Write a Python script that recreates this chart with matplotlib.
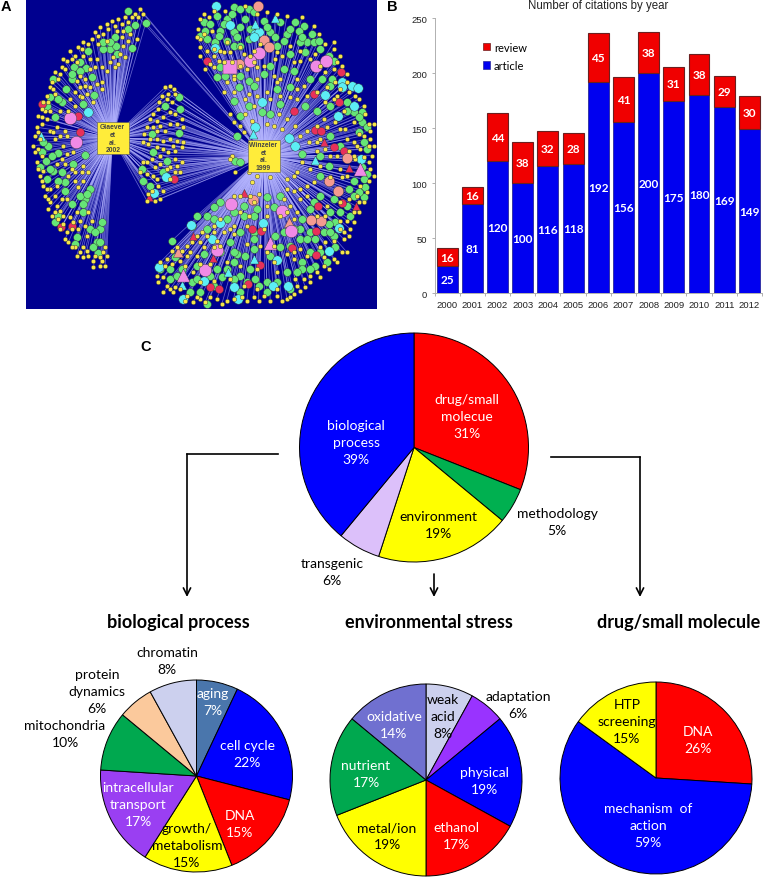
import matplotlib
matplotlib.use("Agg")
import matplotlib.pyplot as plt
from matplotlib.collections import LineCollection
from matplotlib.patches import Patch, Rectangle

FIG_W = 763
FIG_H = 879
LABEL_FONT = "Lato"

# panel B
years = [2000, 2001, 2002, 2003, 2004, 2005, 2006, 2007, 2008, 2009, 2010, 2011, 2012]
articles = [25, 81, 120, 100, 116, 118, 192, 156, 200, 175, 180, 169, 149]
reviews = [16, 16, 44, 38, 32, 28, 45, 41, 38, 31, 38, 29, 30]

# panel C pies, clockwise from 12 o'clock
main_values = [31, 5, 19, 6, 39]
main_colors = ["#ff0000", "#00b050", "#ffff00", "#dcc0fa", "#0000ff"]
bio_values = [7, 22, 15, 15, 17, 10, 6, 8]
bio_colors = ["#4a76ac", "#0000ff", "#ff0000", "#ffff00", "#9a3ff2", "#00a84f", "#fbc99c", "#ccd0ee"]
env_values = [8, 6, 19, 17, 19, 17, 14]
env_colors = ["#ccd0ee", "#9933ff", "#0000ff", "#ff0000", "#ffff00", "#00a84f", "#7070d0"]
drug_values = [26, 59, 15]
drug_colors = ["#ff0000", "#0000ff", "#ffff00"]

# pie labels: text, x, y (figure pixels), colour
pie_labels = [
    ("drug/small\nmolecue\n31%", 467, 417, "white"),
    ("biological\nprocess\n39%", 356, 443, "white"),
    ("environment\n19%", 438, 526, "black"),
    ("methodology\n5%", 557, 523, "black"),
    ("transgenic\n6%", 332, 573, "black"),
    ("chromatin\n8%", 167, 662, "black"),
    ("protein\ndynamics\n6%", 97, 692, "black"),
    ("mitochondria\n10%", 65, 735, "black"),
    ("aging\n7%", 213, 703, "white"),
    ("cell cycle\n22%", 247, 755, "white"),
    ("DNA\n15%", 240, 825, "white"),
    ("growth/\nmetabolism\n15%", 187, 846, "black"),
    ("intracellular\ntransport\n17%", 138, 805, "white"),
    ("weak\nacid\n8%", 443, 717, "black"),
    ("adaptation\n6%", 518, 706, "black"),
    ("physical\n19%", 484, 782, "white"),
    ("ethanol\n17%", 456, 837, "white"),
    ("metal/ion\n19%", 387, 837, "black"),
    ("nutrient\n17%", 366, 775, "white"),
    ("oxidative\n14%", 394, 726, "white"),
    ("HTP\nscreening\n15%", 627, 722, "black"),
    ("DNA\n26%", 698, 741, "white"),
    ("mechanism  of\naction\n59%", 648, 826, "white"),
]

# panel A network, node positions (3x crop pixels)
green_nodes = [
    (385,35),(437,72),(405,78),(395,148),(345,115),(330,150),(310,150),(348,140),(265,155),(240,190),
    (258,208),(222,203),(275,235),(160,240),(198,270),(215,240),(282,287),(185,310),(150,295),(248,315),
    (165,355),(255,468),(175,462),(145,440),(138,485),(120,505),(160,515),(140,540),(220,495),(185,520),
    (130,430),(255,600),(270,570),(240,590),(215,615),(195,575),(165,670),(300,690),(290,730),(230,715),
    (295,762),(270,690),(250,640),(310,130),(330,130),(385,90),(350,165),(240,215),(215,225),(175,300),
    (140,320),(155,470),(125,460),(195,550),(150,510),(175,545),(260,585),(250,615),(175,650),(285,700),
    (280,745),(300,730),(225,735),(305,670),
    (538,295),(540,330),(495,320),(455,405),(537,403),(460,460),(502,487),(430,545),(450,560),(425,510),(490,520),
    (610,70),(615,95),(650,50),(700,25),(720,30),(745,30),(660,95),(700,100),(720,85),(745,120),
    (710,115),(750,90),(790,65),(810,100),(840,70),(885,70),(910,80),(860,105),(895,95),(935,105),
    (920,130),(940,130),(850,125),(830,140),(900,130),(870,165),(915,160),(960,150),(985,170),(645,130),
    (655,110),(620,120),(700,140),(660,205),(650,235),(675,230),(720,230),(745,245),(760,260),(790,225),
    (810,200),(850,210),(880,215),(930,240),(965,240),(995,240),(870,265),(715,265),(830,270),(700,305),
    (745,320),(785,340),(810,345),(720,350),(840,315),(915,320),(950,335),(990,320),(1040,310),(1060,340),
    (1085,340),(1085,370),(1100,385),(1100,450),(1085,505),(1100,525),(1095,565),(1090,595),(1060,545),(1045,570),
    (990,410),(1020,440),(960,470),(905,465),(705,485),(720,490),(710,410),(985,500),(960,530),(1000,600),
    (990,640),(1020,640),(960,590),(930,630),(905,660),(940,610),(800,595),(770,630),(820,625),(730,620),
    (660,610),(640,625),(620,650),(590,650),(680,660),(620,690),(575,680),(760,700),(690,730),(720,700),
    (850,700),(900,690),(900,720),(930,700),(945,720),(970,700),(1005,745),(1000,710),(905,790),(840,745),
    (870,740),(825,710),(760,720),(710,765),(735,770),(660,760),(700,760),(515,725),(480,810),(510,840),
    (570,880),(650,810),(665,835),(630,830),(720,830),(750,810),(800,850),(860,820),(905,810),(930,760),
    (960,760),(870,870),(620,915),(720,880),(740,850),(610,765),(840,590),
    (600,110),(630,75),(680,60),(760,40),(800,85),(825,115),(870,90),(955,125),(905,115),(680,125),
    (735,60),(695,45),(670,75),(1000,185),(720,140),(990,260),(1040,335),(1075,355),(1075,400),(1090,430),
    (1090,540),(1075,580),(1060,590),(1040,620),(1005,670),(985,675),(990,700),(1050,650),(980,790),(945,800),
    (930,810),(890,820),(830,850),(800,880),(775,860),(765,840),(700,840),(680,810),(640,860),(600,880),
    (575,850),(545,810),(525,775),(510,810),(530,830),(590,840),(590,800),(700,790),(760,750),(810,770),
    (920,720),(880,690),(760,650),(730,650),(700,640),(640,660),
]
yellow_nodes = [
    (420,30),(430,45),(415,55),(395,55),(375,55),(355,60),(335,65),(320,75),(300,85),(310,105),
    (285,100),(275,120),(250,130),(235,145),(225,170),(210,155),(200,185),(185,205),(180,225),(165,220),
    (150,265),(155,250),(140,290),(130,310),(135,335),(115,350),(140,360),(125,375),(110,385),(105,410),
    (115,450),(105,460),(125,470),(110,490),(120,530),(130,560),(135,590),(150,610),(145,630),(165,640),
    (170,620),(190,650),(180,690),(200,700),(215,690),(205,730),(225,745),(240,760),(250,745),(265,770),
    (280,785),(300,800),(315,800),(305,785),(315,745),(320,770),(240,665),(255,680),(275,665),(265,640),
    (230,640),(210,655),(150,570),(170,560),(200,600),(235,565),(250,545),(225,520),(215,510),(250,500),
    (195,495),(200,465),(220,460),(180,410),(165,420),(150,395),(170,385),(195,395),(200,410),(240,265),
    (255,260),(270,265),(290,255),(305,250),(305,270),(240,290),(225,280),(210,300),(225,320),(245,295),
    (205,335),(180,335),(150,335),(340,175),(355,195),(330,190),(305,205),(290,180),(285,205),(360,165),
    (375,175),(350,95),(370,95),(390,105),(410,120),(365,115),(385,125),(250,170),(270,180),(240,230),
    (190,180),(165,285),
    (405,45),(385,70),(365,75),(345,80),(325,90),(295,110),(265,135),(245,150),(230,190),(215,180),
    (195,210),(175,240),(160,270),(145,310),(125,330),(125,355),(115,400),(120,420),(100,440),(115,510),
    (130,515),(125,545),(140,570),(145,600),(155,650),(175,660),(190,675),(195,720),(215,745),(230,770),
    (250,775),(285,770),(300,775),(310,760),(280,805),(260,755),(235,690),(260,710),(220,670),(180,635),
    (165,590),(185,600),(225,545),(205,530),(245,520),(265,520),(185,480),(170,495),(190,440),(160,400),
    (230,245),(255,240),(280,310),(260,285),(295,135),(320,125),(370,140),(345,205),(320,215),(270,210),
    (495,265),(510,262),(522,270),(525,285),(505,285),(485,290),(478,310),(475,330),(460,345),(450,360),
    (470,365),(490,355),(510,340),(525,345),(545,360),(530,375),(548,385),(440,385),(432,405),(430,430),
    (445,435),(470,420),(490,425),(510,420),(530,425),(550,430),(545,445),(525,455),(505,460),(490,450),
    (470,445),(455,480),(440,490),(430,490),(465,505),(480,470),(525,480),(545,490),(540,520),(510,505),
    (525,520),(420,520),(460,530),(475,560),(490,575),(480,600),(465,605),(440,605),(445,585),(470,540),
    (500,300),(515,310),(480,380),(460,385),(510,375),(495,395),(470,395),(450,420),(520,440),(480,495),
    (440,525),(500,510),(455,575),(510,540),(530,500),
    (640,35),(625,55),(600,60),(595,90),(600,120),(600,145),(620,155),(640,170),(600,170),(630,195),
    (655,185),(670,160),(690,160),(680,130),(720,145),(730,165),(760,155),(770,205),(740,210),(790,200),
    (825,180),(845,170),(880,190),(900,185),(930,180),(960,200),(1000,150),(1010,190),(1020,170),(1000,210),
    (1005,250),(1020,270),(1045,280),(1075,300),(1090,320),(1105,375),(1110,395),(1090,410),(1075,405),(1110,420),
    (1105,440),(1090,475),(1105,490),(1110,510),(1105,545),(1080,560),(1100,580),(1075,610),(1060,640),(1040,665),
    (1050,690),(1030,720),(1000,780),(970,800),(950,820),(930,830),(910,840),(890,860),(900,875),(880,885),
    (860,900),(830,890),(810,905),(790,890),(760,895),(740,905),(700,900),(680,905),(650,900),(630,895),
    (600,900),(580,910),(560,890),(540,870),(520,880),(500,860),(490,880),(470,830),(480,790),(500,780),
    (515,755),(530,745),(560,740),(590,710),(605,700),(640,680),(660,660),(700,590),(720,590),(750,590),
    (775,585),(860,570),(880,575),(900,570),(920,560),(940,550),(880,530),(860,540),(810,535),(770,530),
    (755,550),(745,520),(695,470),(690,480),(705,520),(690,345),(700,370),(735,345),(810,300),(840,290),
    (760,320),(870,295),(890,300),(920,290),(950,280),(975,310),(1000,300),(1030,335),(1005,370),(970,360),
    (950,380),(920,395),(900,410),(925,430),(950,430),(1040,420),(1060,430),(1045,455),(1010,470),(960,500),
    (930,510),(905,490),(890,520),(990,535),(1025,535),(1045,600),(1020,610),(980,620),(870,620),(890,640),
    (840,650),(800,650),(745,650),(700,680),(740,680),(790,690),(640,700),(600,730),(570,760),(540,785),
    (580,820),(600,795),(630,795),(680,790),(720,800),(770,810),(830,820),(820,790),(880,780),(860,765),
    (900,750),(960,745),(975,730),(1020,690),(1040,760),(660,155),(750,170),(820,230),(840,240),(890,240),
    (720,200),(700,230),(745,285),(770,290),(730,400),(680,250),(700,280),(670,280),(700,240),
    (610,45),(635,95),(675,35),(735,20),(770,45),(800,40),(830,45),(860,50),(905,55),(940,80),
    (955,105),(975,135),(1000,130),(610,105),(590,115),(640,205),(615,210),(695,190),(670,190),(640,150),
    (780,135),(760,190),(830,160),(870,140),(900,155),(945,165),(975,220),(1025,200),(1040,225),(1040,250),
    (1065,290),(1095,345),(1120,375),(1070,440),(1080,450),(1065,480),(1120,440),(1115,470),(1120,530),(1090,610),
    (1070,590),(1075,640),(1060,670),(1045,710),(1025,760),(1010,790),(985,810),(960,835),(930,850),(915,865),
    (870,895),(845,905),(775,905),(725,895),(665,915),(615,910),(590,895),(555,905),(525,865),(510,870),
    (490,835),(475,850),(495,800),(515,795),(560,770),(545,755),(575,730),(620,710),(650,725),(700,705),
    (740,735),(780,740),(800,760),(820,740),(880,760),(920,770),(970,775),(1000,725),(1030,700),(1020,665),
    (975,650),(950,650),(880,660),(860,640),(800,620),(760,610),(720,640),(690,690),(670,700),(660,740),
    (640,745),(610,745),(590,770),(555,800),(600,850),(640,845),(690,840),(730,860),(770,870),(830,870),
    (885,840),(900,600),(920,590),(850,600),(1040,530),(1020,510),(990,470),(975,450),(950,455),(1060,470),
    (1035,390),(1020,390),(1060,370),(980,385),(960,420),(885,380),(860,360),(845,390),(820,380),(800,375),
    (835,345),(755,365),(720,380),(830,250),(800,280),(770,240),(735,300),(890,270),(910,260),(980,265),(1010,290),
]
pink_nodes = [(210,358),(228,430),(692,616),(846,637),(872,695),(650,752),(613,813),(775,163),(748,187),(946,200),(978,185)]
pink_triangles = [(808,733),(550,828),(1080,510)]
salmon_nodes = [(772,20),(792,123),(805,145),(715,195),(1040,477),(987,546),(1014,577),(933,663),(963,667),(757,602)]
salmon_triangles = [(865,670),(533,760)]
cyan_nodes = [
    (647,22),(690,77),(765,105),(775,100),(760,115),(645,148),(1025,250),(1025,265),(1055,260),(1072,268),
    (973,288),(1062,320),(1014,352),(786,310),(765,384),(865,417),(883,441),(1083,480),(1016,687),(987,755),
    (830,783),(787,672),(660,672),(572,677),(635,720),(478,805),(550,900),(610,845),(700,865),(713,900),
    (818,860),(862,860),(463,583),(498,535),(265,340),
]
cyan_triangles = [(122,412),(945,482),(760,780),(683,820),(547,858),(765,75),(825,58),(757,405)]
red_nodes = [
    (620,185),(125,316),(235,350),(240,398),(940,286),(880,335),(1015,310),(1023,218),(945,393),(963,396),
    (1002,443),(1030,455),(952,622),(1025,612),(756,690),(782,697),(948,697),(630,865),(655,870),(743,855),
    (780,797),(948,767),(522,540),(215,680),(183,685),(875,747),
]
red_triangles = [(730,583),(1068,622),(970,428),(1047,508),(580,710),(637,776),(447,595)]
square_node = [(688,205)]

giaever_hub = (337, 417)
winzeler_hub = (790, 471)


def px_axes(fig, left, top, right, bottom, **kwargs):
    # axes placed by picture pixels, y measured from the top
    return fig.add_axes([left / FIG_W, 1 - bottom / FIG_H, (right - left) / FIG_W, (bottom - top) / FIG_H], **kwargs)


def draw_network(fig):
    ax = px_axes(fig, 26, 1, 377, 310)
    ax.set_xlim(78, 1130)
    ax.set_ylim(930, 3)
    ax.set_facecolor("#00008f")
    ax.set_xticks([])
    ax.set_yticks([])
    for spine in ax.spines.values():
        spine.set_visible(False)

    all_nodes = (green_nodes + yellow_nodes + pink_nodes + pink_triangles + salmon_nodes + salmon_triangles
                 + cyan_nodes + cyan_triangles + red_nodes + red_triangles + square_node)
    segments = []
    for x, y in all_nodes:
        if x < 415:
            segments.append([giaever_hub, (x, y)])
        elif x < 560 and y < 620:
            segments.append([giaever_hub, (x, y)])
            segments.append([winzeler_hub, (x, y)])
        else:
            segments.append([winzeler_hub, (x, y)])
    ax.add_collection(LineCollection(segments, colors="#b4b4ff", linewidths=0.55, alpha=0.55, zorder=1))

    def nodes(points, size, color, marker="o", z=3):
        xs = [p[0] for p in points]
        ys = [p[1] for p in points]
        ax.scatter(xs, ys, s=size, c=color, marker=marker, edgecolors="#333333", linewidths=0.3, zorder=z)

    nodes(green_nodes, 32, "#66e676")
    nodes(yellow_nodes, 10, "#f6e64a", z=4)
    nodes(red_nodes, 34, "#e8305a", z=3.5)
    nodes(cyan_nodes, 46, "#5ceef5", z=3.5)
    nodes(salmon_nodes, 56, "#f49a90", z=3.5)
    nodes(pink_nodes, 80, "#f08ae6", z=3.6)
    nodes(red_triangles, 34, "#e8305a", "^", 3.5)
    nodes(cyan_triangles, 42, "#5ceef5", "^", 3.5)
    nodes(salmon_triangles, 54, "#f49a90", "^", 3.5)
    nodes(pink_triangles, 90, "#f08ae6", "^", 3.6)
    nodes(square_node, 90, "#f08ae6", "s", 3.6)

    for corner, label in [((290, 370), "Giaever\net\nal.\n2002"), ((742, 423), "Winzeler\net\nal.\n1999")]:
        ax.add_patch(Rectangle(corner, 96, 95, facecolor="#ffec3a", edgecolor="#555555", linewidth=0.4, zorder=5))
        ax.text(corner[0] + 48, corner[1] + 48, label, ha="center", va="center", fontsize=4.9,
                color="#444444", family="Liberation Sans", fontweight="bold", linespacing=1.15, zorder=6)


def draw_bars(fig):
    ax = px_axes(fig, 434.5, 19.3, 762, 294.3)
    positions = list(range(len(years)))
    article_bars = ax.bar(positions, articles, width=0.83, color="#0000f0", edgecolor="#2a2a9a", linewidth=0.6, label="article")
    review_bars = ax.bar(positions, reviews, width=0.83, bottom=articles, color="#f00000", edgecolor="#6a2020", linewidth=0.8, label="review")
    ax.bar_label(article_bars, label_type="center", color="white", fontsize=8.5, family=LABEL_FONT, fontweight="bold")
    ax.bar_label(review_bars, label_type="center", color="white", fontsize=8.5, family=LABEL_FONT, fontweight="bold")

    ax.set_xlim(-0.5, 12.5)
    ax.set_ylim(0, 250)
    ax.set_yticks([0, 50, 100, 150, 200, 250])
    ax.set_xticks([p - 0.5 for p in positions] + [12.5])
    ax.set_xticklabels([])
    ax.set_xticks(positions, minor=True)
    ax.set_xticklabels(years, minor=True)
    ax.tick_params(axis="x", which="minor", length=0, pad=5, labelsize=6.8, labelcolor="#222222")
    ax.tick_params(axis="x", which="major", length=2.5, color="#b0b0b0", width=0.7)
    ax.tick_params(axis="y", length=2.5, color="#b0b0b0", width=0.7, labelsize=6.8, labelcolor="#222222", pad=3)
    for label in ax.get_xticklabels(minor=True) + ax.get_yticklabels():
        label.set_family("Liberation Sans")
    ax.spines["top"].set_visible(False)
    ax.spines["right"].set_visible(False)
    ax.spines["left"].set_color("#b0b0b0")
    ax.spines["bottom"].set_color("#b0b0b0")
    for spine in ax.spines.values():
        spine.set_linewidth(0.7)

    handles = [Patch(facecolor="#f00000", edgecolor="#6a2020", linewidth=0.5, label="review"),
               Patch(facecolor="#0000f0", edgecolor="#2a2a9a", linewidth=0.5, label="article")]
    ax.legend(handles=handles, loc="upper left", bbox_to_anchor=(0.148, 0.915), frameon=False, handlelength=0.65, handleheight=0.65,
              handletextpad=0.35, labelspacing=0.65, borderpad=0, borderaxespad=0, prop={"family": LABEL_FONT, "size": 8})


def draw_pie(fig, values, colors, cx, cy, radius):
    ax = px_axes(fig, cx - radius, cy - radius, cx + radius, cy + radius)
    ax.pie(values, colors=colors, startangle=90, counterclock=False, radius=1,
           wedgeprops={"edgecolor": "black", "linewidth": 0.7})
    ax.set_xlim(-1, 1)
    ax.set_ylim(-1, 1)


def draw_overlay(fig):
    # text and arrows in picture pixels
    ax = fig.add_axes([0, 0, 1, 1], facecolor="none")
    ax.set_xlim(0, FIG_W)
    ax.set_ylim(FIG_H, 0)
    ax.axis("off")

    for letter, x, y in [("A", 6, 7), ("B", 392, 7), ("C", 146, 347)]:
        ax.text(x, y, letter, ha="center", va="center", fontsize=10.5, fontweight="bold", family="Liberation Sans")
    ax.text(598, 6, "Number of citations by year", ha="center", va="center", fontsize=8.3, family="Liberation Sans", color="#222222")

    for label, x, y, color in pie_labels:
        ax.text(x, y, label, ha="center", va="center", color=color, fontsize=10, family=LABEL_FONT, linespacing=1.5)

    for title, x in [("biological process", 178), ("environmental stress", 429), ("drug/small molecule", 679)]:
        ax.text(x, 623, title, ha="center", va="center", fontsize=13, fontweight="bold", family=LABEL_FONT)

    ax.plot([278, 187], [455, 455], color="black", lw=1.2)
    ax.plot([551, 640], [458, 458], color="black", lw=1.2)
    for x0, y0, y1 in [(187, 455, 598), (640, 458, 598), (434, 575, 598)]:
        ax.annotate("", xy=(x0, y1), xytext=(x0, y0),
                    arrowprops={"arrowstyle": "->", "color": "black", "lw": 1.2, "shrinkA": 0, "shrinkB": 0, "mutation_scale": 13})


def main():
    plt.rcParams["font.family"] = [LABEL_FONT, "DejaVu Sans"]
    fig = plt.figure(figsize=(FIG_W / 100, FIG_H / 100), dpi=100)
    draw_network(fig)
    draw_bars(fig)
    draw_pie(fig, main_values, main_colors, 414, 448.5, 114.5)
    draw_pie(fig, bio_values, bio_colors, 196.5, 777, 96)
    draw_pie(fig, env_values, env_colors, 426, 781, 96)
    draw_pie(fig, drug_values, drug_colors, 656, 779, 96)
    draw_overlay(fig)
    fig.savefig("out.png", dpi=100)
    plt.close(fig)


if __name__ == "__main__":
    main()
